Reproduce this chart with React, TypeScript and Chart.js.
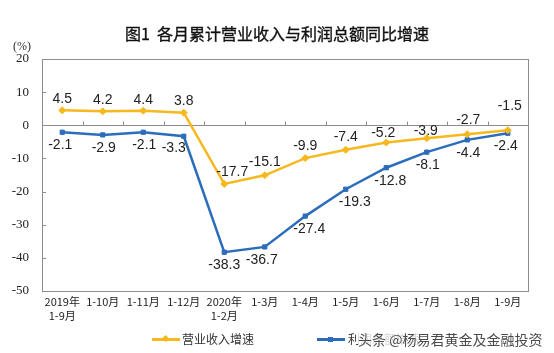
import React, { useEffect, useRef } from 'react';
import Chart from 'chart.js/auto';

const categories: string[][] = [
  ['2019年', '1-9月'], ['1-10月'], ['1-11月'], ['1-12月'], ['2020年', '1-2月'],
  ['1-3月'], ['1-4月'], ['1-5月'], ['1-6月'], ['1-7月'], ['1-8月'], ['1-9月'],
];
const revenueGrowth = [4.5, 4.2, 4.4, 3.8, -17.7, -15.1, -9.9, -7.4, -5.2, -3.9, -2.7, -1.5];
const profitGrowth = [-2.1, -2.9, -2.1, -3.3, -38.3, -36.7, -27.4, -19.3, -12.8, -8.1, -4.4, -2.4];
const yMin = -50;
const yMax = 20;
const yStep = 10;

const titleText = '图1  各月累计营业收入与利润总额同比增速';
const unitText = '(%)';
const seriesNames = ['营业收入增速', '利润总额增速'];
const watermarkText = '头条 @杨易君黄金及金融投资';

const YELLOW = '#F6B81C';
const BLUE = '#2C6DBB';

// label nudges (style only)
const labelNudge = [
  { dx: [0, 0, 0, 0, 8, 0, 0, 0, -3, -1, 1, 2], dy: [-11, -11, -11, -12, -12, -13, -12, -13, -9, -7, -14, -24] },
  { dx: [-2, 1, 1, -10, 0, -3, 4, 9, 4, 1, 1, -2], dy: [13, 13, 13, 12, 13, 13, 13, 13, 13, 13, 13, 13] },
];

const framePlugin = {
  id: 'frame',
  beforeDatasetsDraw(chart: any) {
    const { ctx, chartArea } = chart;
    const { left, right, top, bottom } = chartArea;
    const y = chart.scales.y;
    ctx.save();
    ctx.strokeStyle = '#8c8c8c';
    ctx.lineWidth = 1;
    ctx.strokeRect(Math.round(left) + 0.5, Math.round(top) + 0.5, Math.round(right - left), Math.round(bottom - top));
    y.ticks.forEach((t: any) => {
      const py = Math.round(y.getPixelForValue(t.value)) + 0.5;
      ctx.beginPath();
      ctx.moveTo(left, py);
      ctx.lineTo(left + 4, py);
      ctx.stroke();
    });
    const zy = Math.round(y.getPixelForValue(0)) + 0.5;
    ctx.beginPath();
    ctx.moveTo(left, zy);
    ctx.lineTo(right, zy);
    ctx.stroke();
    const n = categories.length;
    const w = (right - left) / n;
    for (let i = 1; i < n; i++) {
      const px = Math.round(left + w * i) + 0.5;
      ctx.beginPath();
      ctx.moveTo(px, zy);
      ctx.lineTo(px, zy - 4);
      ctx.stroke();
    }
    ctx.restore();
  },
  afterDatasetsDraw(chart: any) {
    const { ctx } = chart;
    ctx.save();
    ctx.font = '14px "Liberation Sans", Arial, sans-serif';
    ctx.fillStyle = '#222';
    ctx.textAlign = 'center';
    ctx.textBaseline = 'middle';
    chart.data.datasets.forEach((ds: any, di: number) => {
      const meta = chart.getDatasetMeta(di);
      meta.data.forEach((pt: any, i: number) => {
        const v = ds.data[i];
        ctx.fillText(String(v.toFixed(1)), pt.x + labelNudge[di].dx[i], pt.y + labelNudge[di].dy[i]);
      });
    });
    ctx.restore();
  },
};

export default function App() {
  const ref = useRef<HTMLCanvasElement | null>(null);
  useEffect(() => {
    if (!ref.current) return;
    const chart = new Chart(ref.current, {
      type: 'line',
      data: {
        labels: categories,
        datasets: [
          {
            label: seriesNames[0],
            data: revenueGrowth,
            borderColor: YELLOW,
            backgroundColor: YELLOW,
            borderWidth: 2.5,
            pointStyle: 'rectRot',
            pointRadius: 3.5,
            pointBorderWidth: 1,
            tension: 0,
          },
          {
            label: seriesNames[1],
            data: profitGrowth,
            borderColor: BLUE,
            backgroundColor: BLUE,
            borderWidth: 2.5,
            pointStyle: 'rect',
            pointRadius: 3,
            pointBorderWidth: 1,
            tension: 0,
          },
        ],
      },
      options: {
        responsive: false,
        animation: false,
        devicePixelRatio: 1,
        layout: { padding: { left: 0, top: 59, right: 26, bottom: 22 } },
        plugins: { legend: { display: false }, tooltip: { enabled: false }, title: { display: false } },
        scales: {
          x: {
            offset: true,
            grid: { display: false, drawTicks: false },
            border: { display: false },
            ticks: {
              autoSkip: false,
              maxRotation: 0,
              minRotation: 0,
              padding: 3,
              color: '#222',
              font: { family: '"Noto Sans CJK SC", sans-serif', size: 11, lineHeight: 1.35 },
            },
            afterFit: (s: any) => { s.height = 40; },
          },
          y: {
            min: yMin,
            max: yMax,
            ticks: {
              stepSize: yStep,
              padding: 13,
              color: '#222',
              font: { family: '"Liberation Serif", "Times New Roman", serif', size: 13 },
            },
            grid: { display: false, drawTicks: false },
            border: { display: false },
            afterFit: (s: any) => { s.width = 42; },
          },
        },
      },
      plugins: [framePlugin],
    });
    return () => chart.destroy();
  }, []);

  return (
    <div style={{ position: 'fixed', left: 0, top: 0, width: 554, height: 353, background: '#fff', overflow: 'hidden' }}>
      <canvas ref={ref} width={554} height={353} style={{ position: 'absolute', left: 0, top: 0, width: 554, height: 353 }} />
      <div style={{ position: 'absolute', left: 0, width: 554, top: 23, textAlign: 'center', font: '16px "Noto Sans CJK SC", sans-serif', color: '#111', lineHeight: '20px', whiteSpace: 'pre', WebkitTextStroke: '0.35px #111' } as any}>
        {titleText}
      </div>
      <div style={{ position: 'absolute', left: 13, top: 39, font: '12px "Liberation Serif", serif', color: '#333', lineHeight: '14px' }}>{unitText}</div>
      {/* legend */}
      <div style={{ position: 'absolute', left: 152, top: 338, width: 28, height: 2.5, background: YELLOW }} />
      <div style={{ position: 'absolute', left: 163, top: 336, width: 5, height: 5, background: YELLOW, transform: 'rotate(45deg)' }} />
      <div style={{ position: 'absolute', left: 182, top: 331, font: '12px "Noto Sans CJK SC", sans-serif', color: '#333', lineHeight: '16px' }}>{seriesNames[0]}</div>
      <div style={{ position: 'absolute', left: 317, top: 338, width: 28, height: 2.5, background: BLUE }} />
      <div style={{ position: 'absolute', left: 328, top: 336.5, width: 5, height: 5, background: BLUE }} />
      <div style={{ position: 'absolute', left: 348, top: 331, font: '12px "Noto Sans CJK SC", sans-serif', color: '#333', lineHeight: '16px' }}>{seriesNames[1]}</div>
      <div style={{ position: 'absolute', left: 358, top: 329, font: '14px "Noto Sans CJK SC", sans-serif', color: 'rgba(55,55,55,0.9)', lineHeight: '20px', background: 'rgba(255,255,255,0.8)', textShadow: '0 0 1px #fff', whiteSpace: 'pre' }}>
        {watermarkText}
      </div>
    </div>
  );
}
